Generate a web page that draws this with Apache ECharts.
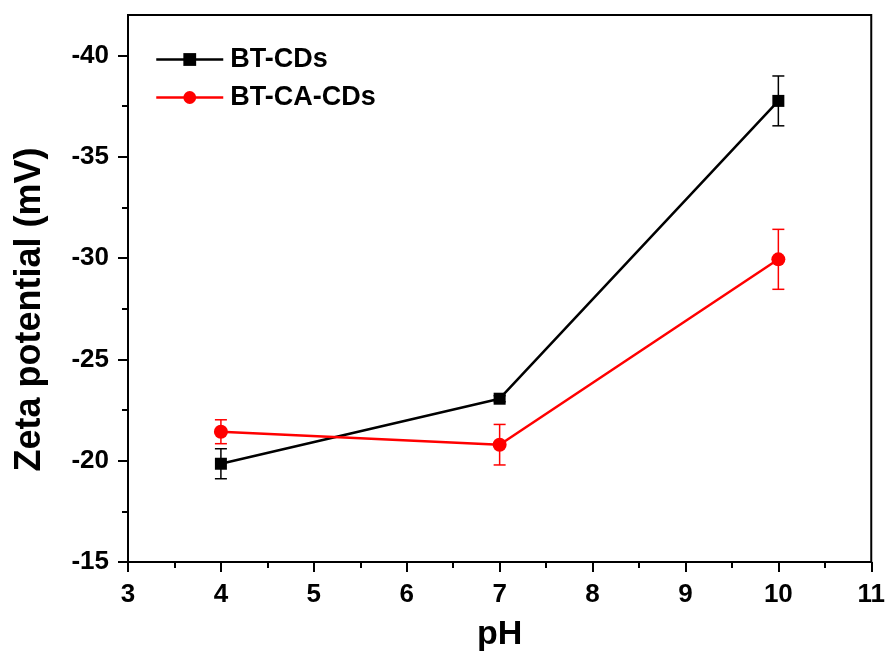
<!DOCTYPE html>
<html>
<head>
<meta charset="utf-8">
<script src="https://cdn.jsdelivr.net/npm/echarts@6/dist/echarts.min.js"></script>
<style>
html, body { margin: 0; padding: 0; background: #fff; }
#main { width: 888px; height: 664px; }
</style>
</head>
<body>
<div id="main"></div>
<script>
// data
var phValues = [4, 7, 10];
var btCds = [-19.85, -23.06, -37.76];
var btCdsErr = [0.74, 0.15, 1.23];
var btCaCds = [-21.43, -20.79, -29.94];
var btCaCdsErr = [0.59, 1.0, 1.48];
var yMajorTicks = [-40, -35, -30, -25, -20, -15];
var yMinorTicks = [-37.5, -32.5, -27.5, -22.5, -17.5];

var font = '"Liberation Sans", Arial, sans-serif';

function pairs(vals) {
    return phValues.map(function (x, i) { return [x, vals[i]]; });
}
function bars(vals, errs) {
    return phValues.map(function (x, i) { return [x, vals[i] - errs[i], vals[i] + errs[i]]; });
}
function errorSeries(vals, errs, color, width) {
    return {
        type: 'custom',
        z: 1,
        silent: true,
        data: bars(vals, errs),
        encode: { x: 0, y: [1, 2] },
        renderItem: function (params, api) {
            var x = api.value(0);
            var lo = api.coord([x, api.value(1)]);
            var hi = api.coord([x, api.value(2)]);
            var half = 6;
            var st = { stroke: color, lineWidth: width };
            return {
                type: 'group',
                children: [
                    { type: 'line', shape: { x1: lo[0], y1: lo[1], x2: hi[0], y2: hi[1] }, style: st },
                    { type: 'line', shape: { x1: lo[0] - half, y1: lo[1], x2: lo[0] + half, y2: lo[1] }, style: st },
                    { type: 'line', shape: { x1: hi[0] - half, y1: hi[1], x2: hi[0] + half, y2: hi[1] }, style: st }
                ]
            };
        }
    };
}

var myChart = echarts.init(document.getElementById('main'));
var option = {
    backgroundColor: '#fff',
    animation: false,
    grid: {
        left: 128, right: 16, top: 15, bottom: 102,
        show: true, borderColor: '#000', borderWidth: 2
    },
    legend: {
        data: ['BT-CDs', 'BT-CA-CDs'],
        orient: 'vertical',
        left: 150, top: 41,
        itemWidth: 67, itemHeight: 16, itemGap: 11,
        lineStyle: { width: 2.5 },
        textStyle: { fontFamily: font, fontWeight: 'bold', fontSize: 27, lineHeight: 24, color: '#000', padding: [0, 0, 0, 2] }
    },
    xAxis: {
        type: 'value',
        min: 3, max: 11, interval: 1,
        name: 'pH', nameLocation: 'middle', nameGap: 56,
        nameTextStyle: { fontFamily: font, fontWeight: 'bold', fontSize: 34, color: '#000' },
        axisLine: { show: true, lineStyle: { color: '#000', width: 2 } },
        axisTick: { show: true, length: 10, lineStyle: { color: '#000', width: 2 } },
        minorTick: { show: true, splitNumber: 2, length: 6, lineStyle: { color: '#000', width: 2 } },
        axisLabel: { margin: 20, fontFamily: font, fontWeight: 'bold', fontSize: 26, color: '#000' },
        splitLine: { show: false }
    },
    yAxis: [{
        type: 'value',
        inverse: true,
        min: -42, max: -15,
        name: 'Zeta potential (mV)', nameLocation: 'middle', nameGap: 80,
        nameTextStyle: { fontFamily: font, fontWeight: 'bold', fontSize: 36, color: '#000', padding: [0, 42, 0, 0] },
        axisLine: { show: true, lineStyle: { color: '#000', width: 2 } },
        axisTick: { show: true, length: 10, customValues: yMajorTicks, lineStyle: { color: '#000', width: 2 } },
        axisLabel: { margin: 19, customValues: yMajorTicks, fontFamily: font, fontWeight: 'bold', fontSize: 26, color: '#000' },
        splitLine: { show: false }
    }, {
        type: 'value',
        inverse: true,
        min: -42, max: -15,
        position: 'left',
        axisLine: { show: false },
        axisTick: { show: true, length: 6, customValues: yMinorTicks, lineStyle: { color: '#000', width: 2 } },
        axisLabel: { show: false },
        splitLine: { show: false }
    }],
    series: [
        errorSeries(btCds, btCdsErr, '#000', 1.5),
        errorSeries(btCaCds, btCaCdsErr, '#f00', 1.5),
        {
            name: 'BT-CDs', type: 'line', z: 3,
            data: pairs(btCds),
            symbol: 'rect', symbolSize: 12,
            itemStyle: { color: '#000' },
            lineStyle: { color: '#000', width: 2.5 }
        },
        {
            name: 'BT-CA-CDs', type: 'line', z: 3,
            data: pairs(btCaCds),
            symbol: 'circle', symbolSize: 14,
            itemStyle: { color: '#f00' },
            lineStyle: { color: '#f00', width: 2.5 }
        }
    ]
};
myChart.setOption(option);
</script>
</body>
</html>
